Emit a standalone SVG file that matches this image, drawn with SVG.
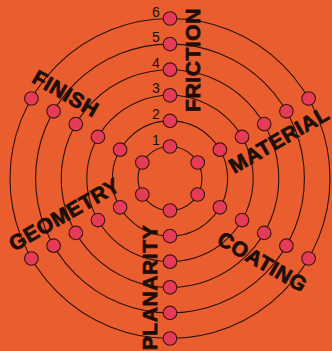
<svg xmlns="http://www.w3.org/2000/svg" width="332" height="351" viewBox="0 0 332 351">
<style>
.ring{fill:none;stroke:#2a120c;stroke-width:1.1}
.node{fill:#e63b57;stroke:#3a1510;stroke-width:1.1}
.num{font-family:"Liberation Sans",Arial,sans-serif;font-size:14px;fill:#1e0e08;text-anchor:middle}
.lbl{font-family:"Liberation Sans",Arial,sans-serif;font-weight:bold;font-size:21px;fill:#1e0e08;stroke:#1e0e08;stroke-width:0.8;text-anchor:middle;letter-spacing:0.6px}
</style>
<rect width="332" height="351" fill="#ea5d2f"/>
<g id="connectors">
<circle class="ring" cx="170" cy="178.5" r="32"/>
<circle class="ring" cx="170" cy="178.5" r="57.6"/>
<circle class="ring" cx="170" cy="178.5" r="83.2"/>
<circle class="ring" cx="170" cy="178.5" r="108.8"/>
<circle class="ring" cx="170" cy="178.5" r="134.4"/>
<circle class="ring" cx="170" cy="178.5" r="160"/>
</g>
<g id="ring1">
<circle class="node" cx="170" cy="146.5" r="6.8"/><circle class="node" cx="197.7" cy="162.5" r="6.8"/><circle class="node" cx="197.7" cy="194.5" r="6.8"/><circle class="node" cx="170" cy="210.5" r="6.8"/><circle class="node" cx="142.3" cy="194.5" r="6.8"/><circle class="node" cx="142.3" cy="162.5" r="6.8"/>
<text class="num" x="156" y="144.5">1</text>
</g>
<g id="ring2">
<circle class="node" cx="170" cy="120.9" r="6.8"/><circle class="node" cx="219.9" cy="149.7" r="6.8"/><circle class="node" cx="219.9" cy="207.3" r="6.8"/><circle class="node" cx="170" cy="236.1" r="6.8"/><circle class="node" cx="120.1" cy="207.3" r="6.8"/><circle class="node" cx="120.1" cy="149.7" r="6.8"/>
<text class="num" x="156" y="118.9">2</text>
</g>
<g id="ring3">
<circle class="node" cx="170" cy="95.3" r="6.8"/><circle class="node" cx="242.05" cy="136.9" r="6.8"/><circle class="node" cx="242.05" cy="220.1" r="6.8"/><circle class="node" cx="170" cy="261.7" r="6.8"/><circle class="node" cx="97.95" cy="220.1" r="6.8"/><circle class="node" cx="97.95" cy="136.9" r="6.8"/>
<text class="num" x="156" y="93.3">3</text>
</g>
<g id="ring4">
<circle class="node" cx="170" cy="69.7" r="6.8"/><circle class="node" cx="264.2" cy="124.1" r="6.8"/><circle class="node" cx="264.2" cy="232.9" r="6.8"/><circle class="node" cx="170" cy="287.3" r="6.8"/><circle class="node" cx="75.8" cy="232.9" r="6.8"/><circle class="node" cx="75.8" cy="124.1" r="6.8"/>
<text class="num" x="156" y="67.7">4</text>
</g>
<g id="ring5">
<circle class="node" cx="170" cy="44.1" r="6.8"/><circle class="node" cx="286.4" cy="111.3" r="6.8"/><circle class="node" cx="286.4" cy="245.7" r="6.8"/><circle class="node" cx="170" cy="312.9" r="6.8"/><circle class="node" cx="53.6" cy="245.7" r="6.8"/><circle class="node" cx="53.6" cy="111.3" r="6.8"/>
<text class="num" x="156" y="42.1">5</text>
</g>
<g id="ring6">
<circle class="node" cx="170" cy="18.5" r="6.8"/><circle class="node" cx="308.6" cy="98.5" r="6.8"/><circle class="node" cx="308.6" cy="258.5" r="6.8"/><circle class="node" cx="170" cy="338.5" r="6.8"/><circle class="node" cx="31.4" cy="258.5" r="6.8"/><circle class="node" cx="31.4" cy="98.5" r="6.8"/>
<text class="num" x="156" y="16.5">6</text>
</g>
<g id="labels">
<text class="lbl" transform="translate(192.5,60) rotate(-90)" x="0" y="7.5">FRICTION</text>
<text class="lbl" transform="translate(279,139.5) rotate(-30)" x="0" y="7.5">MATERIAL</text>
<text class="lbl" transform="translate(262.5,261.7) rotate(30)" x="0" y="7.5">COATING</text>
<text class="lbl" transform="translate(149,287.5) rotate(-90)" x="0" y="7.5">PLANARITY</text>
<text class="lbl" transform="translate(64.2,214.2) rotate(-30)" x="0" y="7.5">GEOMETRY</text>
<text class="lbl" transform="translate(65.8,93.3) rotate(30)" x="0" y="7.5">FINISH</text>
</g>
</svg>
